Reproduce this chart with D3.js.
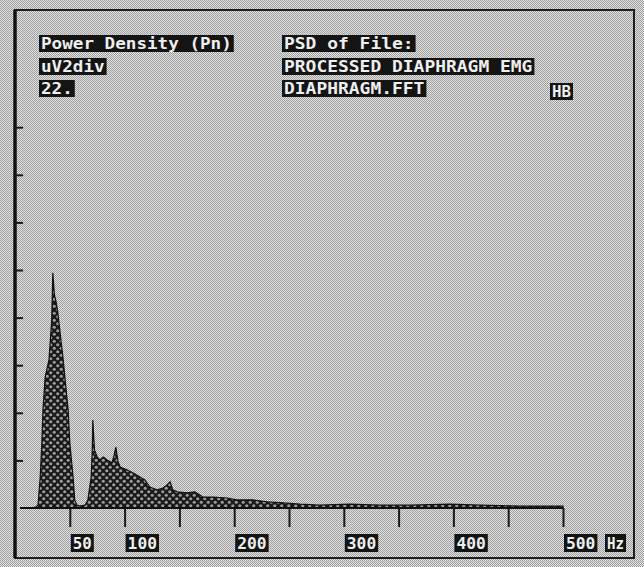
<!DOCTYPE html>
<html>
<head>
<meta charset="utf-8">
<script src="https://cdn.jsdelivr.net/npm/d3@7"></script>
<style>
  html, body { margin: 0; padding: 0; background: #c4c4c4; }
  svg { display: block; }
  text { font-family: "DejaVu Sans Mono", "Liberation Mono", monospace; font-weight: bold; }
</style>
</head>
<body>
<svg id="chart" width="644" height="567"></svg>
<script>
// ---- data ----
const freqHz = [13.5, 19, 21, 23, 24.5, 25.5, 27.5, 31, 33.5, 34.5, 36, 37.5, 39, 44, 45.5, 48.5, 50, 53, 54.5, 56.5,
  59, 64, 66.5, 69.5, 70.5, 71, 72.5, 75, 77.5, 80.5, 84, 88.5, 90.5, 92, 94, 96, 102, 107.5, 114, 118.5,
  123, 129.5, 135, 138.5, 141.5, 144, 148, 157, 164, 171.5, 180.5, 193.5, 202.5, 217, 230, 244.5, 260,
  278, 305.5, 333, 360.5, 397, 424.5, 461, 500];
const powerDiv = [0, 0.02, 0.06, 0.65, 1.37, 2.06, 2.75, 3.11, 3.95, 4.94, 4.47, 4.33, 4.12, 3.11, 2.75, 2.06, 1.37, 0.65, 0.17, 0.06,
  0.04, 0.06, 0.17, 0.65, 1.22, 1.85, 1.22, 1.07, 1.01, 1.07, 1.01, 0.95, 1.11, 1.28, 0.97, 0.86, 0.80, 0.74, 0.65, 0.59,
  0.44, 0.38, 0.42, 0.48, 0.55, 0.38, 0.34, 0.32, 0.34, 0.23, 0.23, 0.21, 0.17, 0.17, 0.13, 0.11, 0.08,
  0.06, 0.08, 0.06, 0.06, 0.08, 0.06, 0.04, 0.04];
const xTickValues = [50, 100, 150, 200, 250, 300, 350, 400, 450, 500];
const xLabelValues = [50, 100, 200, 300, 400, 500];
const xUnitLabel = "Hz";
const yTickValues = [1, 2, 3, 4, 5, 6, 7, 8];
const headerLeft = ["Power Density (Pn)", "uV2div", "22."];
const headerRight = ["PSD of File:", "PROCESSED DIAPHRAGM EMG", "DIAPHRAGM.FFT"];
const headerTag = "HB";

// ---- layout ----
const svg = d3.select("#chart");
const W = 644, H = 567;
const frame = { left: 15, top: 10, right: 634, bottom: 558 };
const x = d3.scaleLinear().domain([0, 500]).range([15, 563]);
const y = d3.scaleLinear().domain([0, 10]).range([508, 32]);

const defs = svg.append("defs");
// dithered grey background
const bg = defs.append("pattern").attr("id", "bg").attr("width", 2).attr("height", 2)
  .attr("patternUnits", "userSpaceOnUse");
bg.append("rect").attr("width", 2).attr("height", 2).attr("fill", "#e2e2e2");
bg.append("rect").attr("width", 1).attr("height", 1).attr("fill", "#9e9e9e");
bg.append("rect").attr("x", 1).attr("y", 1).attr("width", 1).attr("height", 1).attr("fill", "#9e9e9e");
// dark lattice fill for the spectrum
const hatch = defs.append("pattern").attr("id", "hatch").attr("width", 7).attr("height", 7)
  .attr("patternUnits", "userSpaceOnUse");
hatch.append("rect").attr("width", 7).attr("height", 7).attr("fill", "#1a1a1a");
hatch.append("circle").attr("cx", 1.75).attr("cy", 1.75).attr("r", 1.6).attr("fill", "#9c9c9c");
hatch.append("circle").attr("cx", 5.25).attr("cy", 5.25).attr("r", 1.6).attr("fill", "#9c9c9c");

svg.append("rect").attr("width", W).attr("height", H).attr("fill", "url(#bg)");

// frame
svg.append("rect")
  .attr("x", frame.left).attr("y", frame.top)
  .attr("width", frame.right - frame.left).attr("height", frame.bottom - frame.top)
  .attr("fill", "none").attr("stroke", "#1e1e1e").attr("stroke-width", 2);
svg.append("line").attr("x1", frame.left).attr("x2", frame.left)
  .attr("y1", frame.top).attr("y2", frame.bottom)
  .attr("stroke", "#111").attr("stroke-width", 3.5);

// spectrum area
const data = freqHz.map((f, i) => ({ f, v: powerDiv[i] }));
const area = d3.area().x(d => x(d.f)).y0(y(0)).y1(d => y(d.v));
svg.append("path").datum(data).attr("d", area)
  .attr("fill", "url(#hatch)").attr("stroke", "#111").attr("stroke-width", 1.2);

// x axis baseline + ticks
const xAxis = d3.axisBottom(x).tickValues(xTickValues).tickSize(19).tickFormat("");
const gx = svg.append("g").attr("transform", `translate(0,${y(0)})`).call(xAxis);
gx.select(".domain").remove();
gx.selectAll(".tick line").attr("stroke", "#1a1a1a").attr("stroke-width", 2);
svg.append("line").attr("x1", 20).attr("x2", x(500)).attr("y1", y(0)).attr("y2", y(0))
  .attr("stroke", "#111").attr("stroke-width", 2);

// y ticks
const yAxis = d3.axisRight(y).tickValues(yTickValues).tickSize(8).tickFormat("");
const gy = svg.append("g").attr("transform", `translate(${frame.left},0)`).call(yAxis);
gy.select(".domain").remove();
gy.selectAll(".tick line").attr("stroke", "#1a1a1a").attr("stroke-width", 2);

// inverse-video label helper
function boxLabel(txt, bx, by, bh, cw) {
  const w = txt.length * cw + 4;
  const g = svg.append("g");
  g.append("rect").attr("x", bx).attr("y", by).attr("width", w).attr("height", bh).attr("fill", "#141414");
  g.append("text").attr("x", bx + 2).attr("y", by + bh - 3.5)
    .attr("fill", "#eeeeee").attr("font-size", 15.5)
    .attr("textLength", txt.length * cw).attr("lengthAdjust", "spacingAndGlyphs")
    .text(txt);
}

headerLeft.forEach((t, i) => boxLabel(t, 39, [35, 58, 80][i], 17, 10.6));
headerRight.forEach((t, i) => boxLabel(t, 282, [35, 58, 80][i], 17, 10.8));
boxLabel(headerTag, 550, 83, 17, 9.5);

// x tick labels
xLabelValues.forEach(v => {
  const s = String(v);
  boxLabel(s, x(v) + 1, 534, 18, s.length === 2 ? 9.5 : 9.8);
});
boxLabel(xUnitLabel, 605, 534, 18, 8.5);
</script>
</body>
</html>
